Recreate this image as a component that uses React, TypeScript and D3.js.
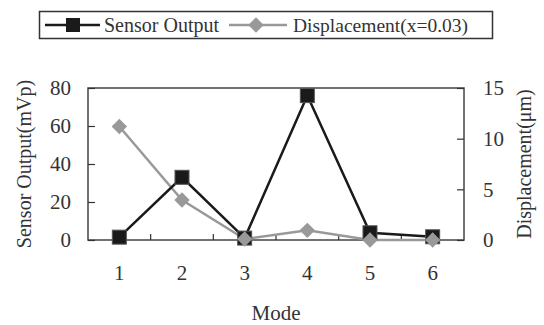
import React, { useEffect, useRef } from "react";
import * as d3 from "d3";

const modes = ["1", "2", "3", "4", "5", "6"];
const sensorOutput = [1.5, 33, 1, 76, 3.8, 1.7];
const displacement = [11.2, 3.95, 0.1, 0.95, 0, 0];
const leftTicks = [0, 20, 40, 60, 80];
const rightTicks = [0, 5, 10, 15];

const width = 544;
const height = 325;
const margin = { top: 88, right: 80, bottom: 85, left: 88 };
const font = "'Liberation Serif', 'Times New Roman', serif";

const App: React.FC = () => {
  const svgRef = useRef<SVGSVGElement | null>(null);

  useEffect(() => {
    const svg = d3.select(svgRef.current);
    svg.selectAll("*").remove();

    const x0 = margin.left;
    const x1 = width - margin.right;
    const y0 = height - margin.bottom;
    const y1 = margin.top;

    const x = d3.scaleBand().domain(modes).range([x0, x1]);
    const yL = d3.scaleLinear().domain([0, 80]).range([y0, y1]);
    const yR = d3.scaleLinear().domain([0, 15]).range([y0, y1]);
    const cx = (d: string) => (x(d) as number) + x.bandwidth() / 2;

    // plot frame
    svg
      .append("rect")
      .attr("x", x0)
      .attr("y", y1)
      .attr("width", x1 - x0)
      .attr("height", y0 - y1)
      .attr("fill", "none")
      .attr("stroke", "#444")
      .attr("stroke-width", 1.5);

    // left axis
    const gL = svg
      .append("g")
      .attr("transform", `translate(${x0},0)`)
      .call(d3.axisLeft(yL).tickValues(leftTicks).tickSize(-7).tickPadding(17));
    // right axis
    const gR = svg
      .append("g")
      .attr("transform", `translate(${x1},0)`)
      .call(d3.axisRight(yR).tickValues(rightTicks).tickSize(-7).tickPadding(19));
    // bottom axis: labels at centres, ticks at band boundaries below
    const gB = svg
      .append("g")
      .attr("transform", `translate(0,${y0})`)
      .call(d3.axisBottom(x).tickSize(0).tickPadding(25));

    [gL, gR, gB].forEach((g) => {
      g.select(".domain").remove();
      g.selectAll(".tick line").attr("stroke", "#333").attr("stroke-width", 1.2);
      g.selectAll("text")
        .attr("fill", "#333")
        .style("font-family", font)
        .style("font-size", "21px");
    });

    svg
      .append("g")
      .selectAll("line")
      .data(modes.slice(1))
      .enter()
      .append("line")
      .attr("x1", (d) => x(d) as number)
      .attr("x2", (d) => x(d) as number)
      .attr("y1", y0)
      .attr("y2", y0 - 6)
      .attr("stroke", "#333")
      .attr("stroke-width", 1.2);

    // axis titles
    svg
      .append("text")
      .attr("transform", `translate(31,${(y0 + y1) / 2}) rotate(-90)`)
      .attr("text-anchor", "middle")
      .attr("fill", "#333")
      .style("font-family", font)
      .style("font-size", "20px")
      .text("Sensor Output(mVp)");
    svg
      .append("text")
      .attr("transform", `translate(531,${(y0 + y1) / 2}) rotate(-90)`)
      .attr("text-anchor", "middle")
      .attr("fill", "#333")
      .style("font-family", font)
      .style("font-size", "20px")
      .text("Displacement(μm)");
    svg
      .append("text")
      .attr("x", (x0 + x1) / 2)
      .attr("y", 320)
      .attr("text-anchor", "middle")
      .attr("fill", "#333")
      .style("font-family", font)
      .style("font-size", "21px")
      .text("Mode");

    // displacement series (grey, diamonds)
    const dispLine = d3
      .line<number>()
      .x((_, i) => cx(modes[i]))
      .y((d) => yR(d));
    svg
      .append("path")
      .datum(displacement)
      .attr("d", dispLine)
      .attr("fill", "none")
      .attr("stroke", "#999")
      .attr("stroke-width", 2.5);

    // sensor series (black, squares)
    const sensLine = d3
      .line<number>()
      .x((_, i) => cx(modes[i]))
      .y((d) => yL(d));
    svg
      .append("path")
      .datum(sensorOutput)
      .attr("d", sensLine)
      .attr("fill", "none")
      .attr("stroke", "#1a1a1a")
      .attr("stroke-width", 2.5);

    const sq = 14;
    svg
      .append("g")
      .selectAll("rect")
      .data(sensorOutput)
      .enter()
      .append("rect")
      .attr("x", (_, i) => cx(modes[i]) - sq / 2)
      .attr("y", (d) => yL(d) - sq / 2)
      .attr("width", sq)
      .attr("height", sq)
      .attr("fill", "#1a1a1a")
      .attr("stroke", "#555")
      .attr("stroke-width", 1);

    const diamond = d3.symbol().type(d3.symbolDiamond2).size(150);
    svg
      .append("g")
      .selectAll("path")
      .data(displacement)
      .enter()
      .append("path")
      .attr("d", diamond)
      .attr("transform", (d, i) => `translate(${cx(modes[i])},${yR(d)})`)
      .attr("fill", "#999");

    // legend
    const lg = svg.append("g");
    lg.append("rect")
      .attr("x", 39.5)
      .attr("y", 11.5)
      .attr("width", 453)
      .attr("height", 27)
      .attr("fill", "#fff")
      .attr("stroke", "#333")
      .attr("stroke-width", 1.5);
    lg.append("line")
      .attr("x1", 45)
      .attr("x2", 100)
      .attr("y1", 25)
      .attr("y2", 25)
      .attr("stroke", "#1a1a1a")
      .attr("stroke-width", 2.5);
    lg.append("rect")
      .attr("x", 66)
      .attr("y", 18)
      .attr("width", sq)
      .attr("height", sq)
      .attr("fill", "#1a1a1a");
    lg.append("text")
      .attr("x", 104)
      .attr("y", 32)
      .attr("fill", "#333")
      .style("font-family", font)
      .style("font-size", "20px")
      .text("Sensor Output");
    lg.append("line")
      .attr("x1", 229)
      .attr("x2", 287)
      .attr("y1", 25)
      .attr("y2", 25)
      .attr("stroke", "#999")
      .attr("stroke-width", 2.5);
    lg.append("path")
      .attr("d", diamond)
      .attr("transform", "translate(256,25)")
      .attr("fill", "#999");
    lg.append("text")
      .attr("x", 293)
      .attr("y", 32)
      .attr("fill", "#333")
      .style("font-family", font)
      .style("font-size", "19.5px")
      .text("Displacement(x=0.03)");
  }, []);

  return (
    <svg
      ref={svgRef}
      width={width}
      height={height}
      style={{ position: "absolute", left: 0, top: 0, background: "#fff" }}
    />
  );
};

export default App;
